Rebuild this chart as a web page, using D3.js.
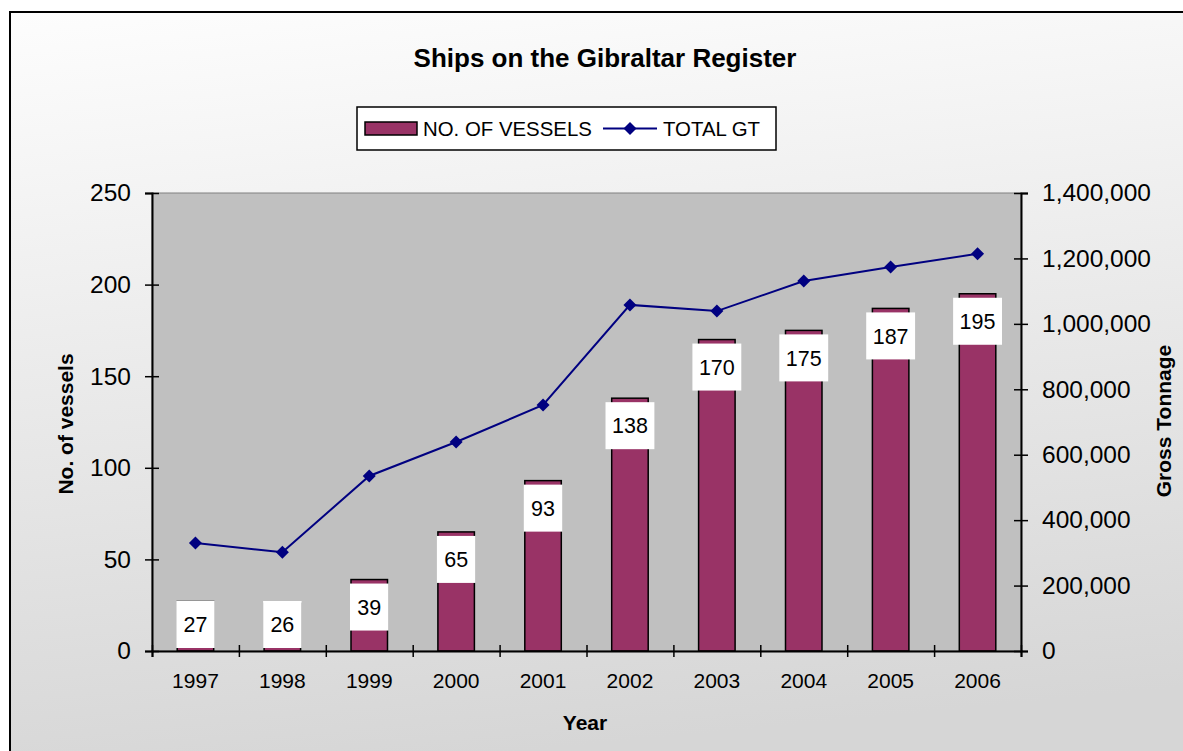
<!DOCTYPE html>
<html>
<head>
<meta charset="utf-8">
<script src="https://cdn.jsdelivr.net/npm/d3@7"></script>
<style>
  body { margin: 0; padding: 0; overflow: hidden; }
  svg { display: block; font-family: "Liberation Sans", Arial, sans-serif; }
</style>
</head>
<body>
<div class="chart"></div>
<script>
let width = 1183
let height = 751

// chart data
const years = ["1997", "1998", "1999", "2000", "2001", "2002", "2003", "2004", "2005", "2006"]
const vessels = [27, 26, 39, 65, 93, 138, 170, 175, 187, 195]
const totalGT = [330000, 302000, 535000, 639000, 752000, 1058000, 1039000, 1131000, 1174000, 1214000]
const leftTicks = [0, 50, 100, 150, 200, 250]
const rightTicks = [0, 200000, 400000, 600000, 800000, 1000000, 1200000, 1400000]

const plot = {left: 152, right: 1021, top: 193, bottom: 651}

const svg = d3.select(".chart")
  .append("svg")
  .attr("width", width)
  .attr("height", height)

const defs = svg.append("defs")
const grad = defs.append("linearGradient")
  .attr("id", "bg")
  .attr("x1", 0).attr("y1", 0).attr("x2", 0.15).attr("y2", 1)
grad.append("stop").attr("offset", "0%").attr("stop-color", "#fdfdfd")
grad.append("stop").attr("offset", "100%").attr("stop-color", "#d6d6d6")

svg.append("rect")
  .attr("width", width).attr("height", height)
  .attr("fill", "#ffffff")
svg.append("rect")
  .attr("x", 10).attr("y", 12)
  .attr("width", width + 20).attr("height", height + 20)
  .attr("fill", "url(#bg)")
  .attr("stroke", "#000").attr("stroke-width", 2)

// scales
const x = d3.scaleBand()
  .domain(years)
  .range([plot.left, plot.right])
const xEdges = d3.scaleLinear()
  .domain([0, years.length])
  .range([plot.left, plot.right])
const y = d3.scaleLinear()
  .domain([0, 250])
  .range([plot.bottom, plot.top])
const y2 = d3.scaleLinear()
  .domain([0, 1400000])
  .range([plot.bottom, plot.top])

// plot area
svg.append("rect")
  .attr("x", plot.left).attr("y", plot.top)
  .attr("width", plot.right - plot.left)
  .attr("height", plot.bottom - plot.top)
  .attr("fill", "#c0c0c0")
  .attr("stroke", "#808080")

// bars
const barW = x.bandwidth() * 0.42
svg.selectAll(".bar")
  .data(vessels)
  .enter()
  .append("rect")
  .attr("class", "bar")
  .attr("x", (d, i) => x(years[i]) + (x.bandwidth() - barW) / 2)
  .attr("y", d => y(d))
  .attr("width", barW)
  .attr("height", d => y(0) - y(d))
  .attr("fill", "#993366")
  .attr("stroke", "#000")
  .attr("stroke-width", 1.5)

// axes
const fontNum = 24.5
const leftAxis = svg.append("g")
  .attr("transform", `translate(${plot.left},0)`)
  .call(d3.axisLeft(y).tickValues(leftTicks).tickSize(7).tickPadding(14))
leftAxis.selectAll("line").attr("x1", 7)
leftAxis.selectAll("text").attr("font-size", fontNum)

const rightAxis = svg.append("g")
  .attr("transform", `translate(${plot.right},0)`)
  .call(d3.axisRight(y2).tickValues(rightTicks).tickSize(7).tickPadding(14).tickFormat(d3.format(",")))
rightAxis.selectAll("line").attr("x1", -7)
rightAxis.selectAll("text").attr("font-size", fontNum)

const edgeAxis = svg.append("g")
  .attr("transform", `translate(0,${plot.bottom})`)
  .call(d3.axisBottom(xEdges).tickValues(d3.range(years.length + 1)).tickSize(6).tickFormat(""))
edgeAxis.selectAll("line").attr("y1", -6)

const catAxis = svg.append("g")
  .attr("transform", `translate(0,${plot.bottom})`)
  .call(d3.axisBottom(x).tickSize(0).tickPadding(22))
catAxis.select(".domain").remove()
catAxis.selectAll("text").attr("font-size", 21)

svg.selectAll(".domain").attr("stroke-width", 2)
svg.selectAll(".tick line").attr("stroke-width", 1.5)
svg.selectAll(".tick text").attr("fill", "#000")

// value labels
const labels = svg.selectAll(".vlabel")
  .data(vessels)
  .enter()
  .append("g")
  .attr("class", "vlabel")
labels.append("rect").attr("fill", "#fff")
labels.append("text")
  .attr("font-size", 21.5)
  .attr("text-anchor", "middle")
  .attr("dy", "0.36em")
  .text(d => d)
labels.each(function(d, i) {
  const g = d3.select(this)
  const tw = g.select("text").node().getComputedTextLength()
  const bw = Math.max(tw + 13, barW + 2), bh = 47
  const cx = x(years[i]) + x.bandwidth() / 2
  const top = Math.min(y(d) + 4, y(0) - 3 - bh)
  g.select("rect").attr("x", cx - bw / 2).attr("y", top).attr("width", bw).attr("height", bh)
  g.select("text").attr("x", cx).attr("y", top + bh / 2)
})

// line
const diamond = "M0,-6.5L6.5,0L0,6.5L-6.5,0Z"
const line = d3.line()
  .x((d, i) => x(years[i]) + x.bandwidth() / 2)
  .y(d => y2(d))
svg.append("path")
  .datum(totalGT)
  .attr("d", line)
  .attr("fill", "none")
  .attr("stroke", "#000080")
  .attr("stroke-width", 2)
svg.selectAll(".gt")
  .data(totalGT)
  .enter()
  .append("path")
  .attr("class", "gt")
  .attr("d", diamond)
  .attr("transform", (d, i) => `translate(${x(years[i]) + x.bandwidth() / 2},${y2(d)})`)
  .attr("fill", "#000080")

// titles
svg.append("text")
  .attr("x", 605).attr("y", 67)
  .attr("text-anchor", "middle")
  .attr("font-size", 26)
  .attr("font-weight", "bold")
  .text("Ships on the Gibraltar Register")

svg.append("text")
  .attr("x", 585).attr("y", 730)
  .attr("text-anchor", "middle")
  .attr("font-size", 21)
  .attr("font-weight", "bold")
  .text("Year")

svg.append("text")
  .attr("transform", "translate(73,424) rotate(-90)")
  .attr("text-anchor", "middle")
  .attr("font-size", 21)
  .attr("font-weight", "bold")
  .text("No. of vessels")

svg.append("text")
  .attr("transform", "translate(1171,421) rotate(-90)")
  .attr("text-anchor", "middle")
  .attr("font-size", 21)
  .attr("font-weight", "bold")
  .text("Gross Tonnage")

// legend
const legend = svg.append("g")
legend.append("rect")
  .attr("x", 357).attr("y", 107)
  .attr("width", 419).attr("height", 43)
  .attr("fill", "#fff")
  .attr("stroke", "#000").attr("stroke-width", 1.5)
legend.append("rect")
  .attr("x", 365).attr("y", 122)
  .attr("width", 52).attr("height", 13)
  .attr("fill", "#993366")
  .attr("stroke", "#000").attr("stroke-width", 1.5)
legend.append("text")
  .attr("x", 423).attr("y", 136)
  .attr("font-size", 20.4)
  .text("NO. OF VESSELS")
legend.append("line")
  .attr("x1", 603).attr("x2", 657)
  .attr("y1", 128.5).attr("y2", 128.5)
  .attr("stroke", "#000080").attr("stroke-width", 2)
legend.append("path")
  .attr("d", diamond)
  .attr("transform", "translate(630,128.5)")
  .attr("fill", "#000080")
legend.append("text")
  .attr("x", 663).attr("y", 136)
  .attr("font-size", 20.4)
  .text("TOTAL GT")
</script>
</body>
</html>
